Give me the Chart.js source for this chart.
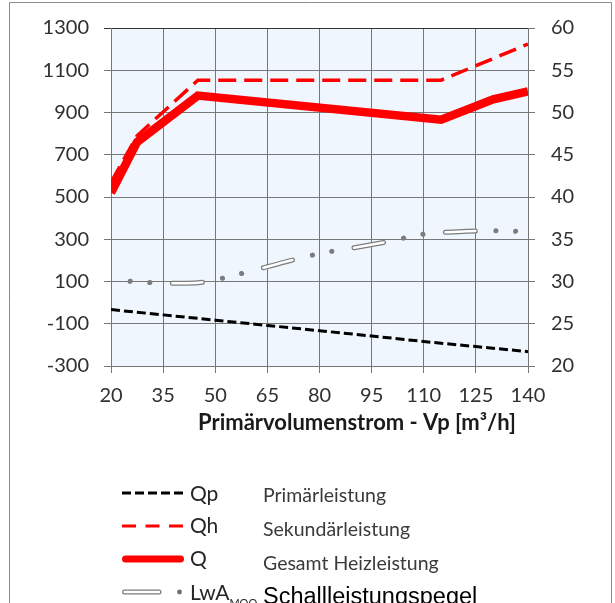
<!DOCTYPE html>
<html>
<head>
<meta charset="utf-8">
<script src="https://cdn.jsdelivr.net/npm/chart.js@4/dist/chart.umd.min.js"></script>
<style>
  html, body { margin: 0; padding: 0; background: #ffffff; }
  #wrap { position: relative; width: 615px; height: 603px; overflow: hidden; }
  canvas { display: block; }
</style>
</head>
<body>
<div id="wrap"><canvas id="chart" width="615" height="603"></canvas></div>
<script>
// Axis tick values
const flowTicks  = [20, 35, 50, 65, 80, 95, 110, 125, 140];
const powerTicks = [-300, -100, 100, 300, 500, 700, 900, 1100, 1300];
const levelTicks = [20, 25, 30, 35, 40, 45, 50, 55, 60];

// Qp – Primärleistung (left axis)
const qpFlow  = [20, 35, 50, 65, 80, 95, 110, 125, 140];
const qpPower = [-33, -58, -83, -108, -133, -158, -184, -208, -232];

// Qh – Sekundärleistung
const qhFlow  = [20, 27.5, 45, 115, 140];
const qhPower = [570, 790, 1053, 1053, 1224];

// Q – Gesamt Heizleistung
const qFlow  = [20, 27.5, 45, 115, 130, 140];
const qPower = [520, 760, 980, 866, 962, 1000];

// LwA – Schallleistungspegel [dB, right axis]
const lwaFlow  = [20, 30, 40, 45, 50, 60, 70, 80, 90, 100, 110, 120, 130, 140];
const lwaLevel = [30.2, 29.9, 29.8, 29.85, 30.2, 31.2, 32.3, 33.3, 34.0, 34.75, 35.6, 35.9, 36.0, 35.9];

// Legend texts
const legendSymbols = ['Qp', 'Qh', 'Q', 'LwA'];
const legendSub = 'MOO';
const legendNames = ['Primärleistung', 'Sekundärleistung', 'Gesamt Heizleistung', 'Schallleistungspegel'];
const axisTitle = 'Primärvolumenstrom - Vp [m³/h]';

const pts = (xs, ys) => xs.map((x, i) => ({ x, y: ys[i] }));

const FONT = 'Lato, "Open Sans", sans-serif';
const GRID = '#777777';
const TEXT = '#303030';

// Long dash / dot / dot pattern used for the sound level line
const lwaDash = [30, 20.5, 0.1, 19.6, 0.1, 22.5];
const lwaInner = [30, 62.8];
const lwaOffset = 31.3;
const LWA_GRAY = '#7c7c7c';

const decor = {
  id: 'decor',
  beforeDraw(chart) {
    const { ctx, chartArea: a } = chart;
    ctx.save();
    ctx.fillStyle = '#ffffff';
    ctx.fillRect(0, 0, chart.width, chart.height);
    ctx.fillStyle = '#eff6fd';
    ctx.fillRect(a.left, a.top, a.right - a.left, a.bottom - a.top);
    ctx.restore();
  },
  afterDraw(chart) {
    const ctx = chart.ctx;
    ctx.save();
    // outer frame
    ctx.strokeStyle = '#8c8c8c';
    ctx.lineWidth = 1;
    ctx.setLineDash([]);
    ctx.beginPath();
    ctx.moveTo(9.5, 610);
    ctx.lineTo(9.5, 2.5);
    ctx.lineTo(611.5, 2.5);
    ctx.lineTo(611.5, 610);
    ctx.stroke();

    // x axis title
    ctx.fillStyle = '#1a1a1a';
    ctx.font = 'bold 22px ' + FONT;
    ctx.textAlign = 'left';
    ctx.textBaseline = 'alphabetic';
    ctx.fillText(axisTitle, 198, 430);

    // legend
    const rowY = [493, 526, 559, 592];
    const x0 = 122, x1 = 184;
    const seg = (y, a, b) => { ctx.beginPath(); ctx.moveTo(a, y); ctx.lineTo(b, y); ctx.stroke(); };

    ctx.lineCap = 'butt';
    ctx.strokeStyle = '#000000'; ctx.lineWidth = 3; ctx.setLineDash([9, 4]);
    seg(rowY[0], x0, x1);
    ctx.strokeStyle = '#ff0000'; ctx.lineWidth = 3; ctx.setLineDash([14, 9.5]);
    seg(rowY[1], x0, x1);
    ctx.setLineDash([]);
    ctx.lineCap = 'round';
    ctx.strokeStyle = '#ff0000'; ctx.lineWidth = 7;
    seg(rowY[2], x0 + 3.5, x1 - 3.5);
    ctx.strokeStyle = LWA_GRAY; ctx.lineWidth = 5;
    seg(rowY[3], x0 + 2.5, 159);
    ctx.strokeStyle = '#ffffff'; ctx.lineWidth = 2.5;
    seg(rowY[3], x0 + 2.5, 159);
    ctx.fillStyle = '#6f6f6f';
    ctx.beginPath(); ctx.arc(179.5, rowY[3], 2.4, 0, Math.PI * 2); ctx.fill();

    const symBase = [501, 533, 566, 600];
    const nameBase = [502, 536, 570, 604];
    ctx.fillStyle = '#262626';
    ctx.font = '21px ' + FONT;
    legendSymbols.forEach((s, i) => ctx.fillText(s, 190, symBase[i]));
    const lw = ctx.measureText(legendSymbols[3]).width;
    ctx.font = '11px ' + FONT;
    ctx.fillText(legendSub, 190 + lw, 607);

    ctx.fillStyle = '#3a3a3a';
    ctx.font = '19.5px ' + FONT;
    for (let i = 0; i < 3; i++) ctx.fillText(legendNames[i], 263, nameBase[i]);
    ctx.fillStyle = '#000000';
    ctx.font = '23.5px "Liberation Sans", Arial, sans-serif';
    ctx.fillText(legendNames[3], 263, nameBase[3]);
    ctx.restore();
  }
};

const setTicks = (values) => (scale) => { scale.ticks = values.map(v => ({ value: v })); };

new Chart(document.getElementById('chart'), {
  type: 'line',
  data: {
    datasets: [
      { label: 'LwA inner', data: pts(lwaFlow, lwaLevel), yAxisID: 'y2',
        borderColor: '#ffffff', borderWidth: 2.5, borderDash: lwaInner, borderDashOffset: lwaOffset,
        borderCapStyle: 'round', cubicInterpolationMode: 'monotone', pointRadius: 0 },
      { label: 'LwA', data: pts(lwaFlow, lwaLevel), yAxisID: 'y2',
        borderColor: LWA_GRAY, borderWidth: 5, borderDash: lwaDash, borderDashOffset: lwaOffset,
        borderCapStyle: 'round', cubicInterpolationMode: 'monotone', pointRadius: 0 },
      { label: 'Q', data: pts(qFlow, qPower), yAxisID: 'y',
        borderColor: '#ff0000', borderWidth: 8.5, pointRadius: 0, tension: 0 },
      { label: 'Qh', data: pts(qhFlow, qhPower), yAxisID: 'y',
        borderColor: '#ff0000', borderWidth: 3.5, borderDash: [18, 8], pointRadius: 0, tension: 0 },
      { label: 'Qp', data: pts(qpFlow, qpPower), yAxisID: 'y',
        borderColor: '#000000', borderWidth: 3, borderDash: [9, 4], pointRadius: 0, tension: 0 }
    ]
  },
  options: {
    responsive: false,
    animation: false,
    devicePixelRatio: 1,
    layout: { padding: { top: 16, left: 0, right: 0, bottom: 0 } },
    plugins: { legend: { display: false }, tooltip: { enabled: false } },
    scales: {
      x: {
        type: 'linear', min: 20, max: 140,
        afterBuildTicks: setTicks(flowTicks),
        afterFit: (s) => { s.height = 237; },
        grid: { color: GRID, tickLength: 7, lineWidth: 1 },
        border: { color: GRID },
        ticks: { color: TEXT, padding: 11, font: { family: FONT, size: 20 }, maxRotation: 0, autoSkip: false,
                 callback: (v) => String(v) }
      },
      y: {
        position: 'left', min: -300, max: 1300,
        afterBuildTicks: setTicks(powerTicks),
        afterFit: (s) => { s.width = 111; },
        grid: { color: (c) => (c.tick && c.tick.value === 1300 ? '#333333' : GRID), tickLength: 7 },
        border: { color: GRID },
        ticks: { color: TEXT, padding: 15, font: { family: FONT, size: 20 }, autoSkip: false,
                 callback: (v) => String(v) }
      },
      y2: {
        position: 'right', min: 20, max: 60,
        afterBuildTicks: setTicks(levelTicks),
        afterFit: (s) => { s.width = 87; },
        grid: { drawOnChartArea: false, color: GRID, tickLength: 7 },
        border: { color: GRID },
        ticks: { color: TEXT, padding: 16, font: { family: FONT, size: 20 }, autoSkip: false,
                 callback: (v) => String(v) }
      }
    }
  },
  plugins: [decor]
});
</script>
</body>
</html>
